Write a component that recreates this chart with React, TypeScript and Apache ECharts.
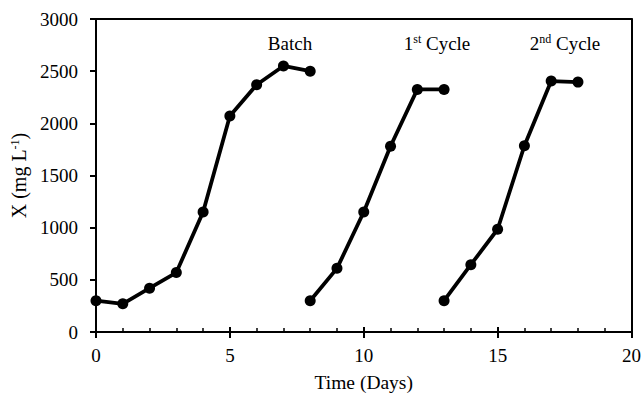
import React, { useEffect, useRef } from "react";
import * as echarts from "echarts";

const batchDays = [0, 1, 2, 3, 4, 5, 6, 7, 8];
const batchX = [300, 270, 420, 570, 1150, 2070, 2370, 2550, 2500];
const cycle1Days = [8, 9, 10, 11, 12, 13];
const cycle1X = [300, 610, 1150, 1780, 2325, 2325];
const cycle2Days = [13, 14, 15, 16, 17, 18];
const cycle2X = [300, 645, 985, 1785, 2405, 2395];

const FONT = "Liberation Serif";

function pairs(xs: number[], ys: number[]) {
  return xs.map((x, i) => [x, ys[i]]);
}

export default function App() {
  const ref = useRef<HTMLDivElement>(null);
  useEffect(() => {
    if (!ref.current) return;
    const chart = echarts.init(ref.current, undefined, { renderer: "svg" });
    const lineSeries = (name: string, data: number[][]) => ({
      name,
      type: "line",
      data,
      symbol: "circle",
      symbolSize: 11,
      lineStyle: { color: "#000", width: 3.8 },
      itemStyle: { color: "#000" },
      xAxisIndex: 0,
      yAxisIndex: 0,
    });
    const plain = (v: number) => String(v);
    const supRich = { sup: { fontFamily: FONT, fontSize: 12, color: "#000", fill: "#000", padding: [0, 0, 8, 0] } };
    chart.setOption({
      animation: false,
      backgroundColor: "#fff",
      textStyle: { fontFamily: FONT },
      grid: {
        left: 96,
        right: 12,
        top: 19,
        bottom: 60,
      },
      xAxis: [
        {
          type: "value",
          position: "bottom",
          min: 0,
          max: 20,
          interval: 5,
          name: "Time (Days)",
          nameLocation: "middle",
          nameGap: 40,
          nameTextStyle: { fontFamily: FONT, fontSize: 19.5, color: "#000" },
          axisLine: { show: true, onZero: false, lineStyle: { color: "#000", width: 2 } },
          axisTick: { show: true, inside: true, length: 5, lineStyle: { color: "#000", width: 2 } },
          minorTick: { show: true, splitNumber: 5, length: 4, lineStyle: { color: "#000", width: 1.5 } },
          axisLabel: { fontFamily: FONT, fontSize: 19, color: "#000", margin: 14, formatter: plain },
          splitLine: { show: false },
          minorSplitLine: { show: false },
        },
        {
          type: "value",
          position: "bottom",
          min: 0,
          max: 20,
          interval: 5,
          axisLine: { show: false, onZero: false },
          axisTick: { show: true, inside: false, length: 6, lineStyle: { color: "#000", width: 2 } },
          axisLabel: { show: false },
          splitLine: { show: false },
        },
        {
          type: "value",
          position: "top",
          min: 0,
          max: 20,
          axisLine: { show: true, onZero: false, lineStyle: { color: "#000", width: 2 } },
          axisTick: { show: false },
          axisLabel: { show: false },
          splitLine: { show: false },
        },
      ],
      yAxis: [
        {
          type: "value",
          position: "left",
          min: 0,
          max: 3000,
          interval: 500,
          name: "X (mg L{sup|-1})",
          nameLocation: "middle",
          nameGap: 58,
          nameTextStyle: {
            fontFamily: FONT,
            fontSize: 20,
            color: "#000",
            rich: supRich,
          },
          axisLine: { show: true, onZero: false, lineStyle: { color: "#000", width: 2 } },
          axisTick: { show: true, inside: false, length: 6, lineStyle: { color: "#000", width: 2 } },
          axisLabel: { fontFamily: FONT, fontSize: 19, color: "#000", margin: 18, formatter: plain },
          splitLine: { show: false },
        },
        {
          type: "value",
          position: "right",
          min: 0,
          max: 3000,
          axisLine: { show: true, onZero: false, lineStyle: { color: "#000", width: 2 } },
          axisTick: { show: false },
          axisLabel: { show: false },
          splitLine: { show: false },
        },
      ],
      graphic: [
        {
          type: "text",
          x: 290,
          y: 43,
          style: {
            text: "Batch",
            fontFamily: FONT,
            fontSize: 19,
            fill: "#000",
            align: "center",
            verticalAlign: "middle",
          },
        },
        {
          type: "text",
          x: 437,
          y: 43,
          style: {
            text: "1{sup|st} Cycle",
            fontFamily: FONT,
            fontSize: 19,
            fill: "#000",
            align: "center",
            verticalAlign: "middle",
            rich: supRich,
          },
        },
        {
          type: "text",
          x: 565,
          y: 43,
          style: {
            text: "2{sup|nd} Cycle",
            fontFamily: FONT,
            fontSize: 19,
            fill: "#000",
            align: "center",
            verticalAlign: "middle",
            rich: supRich,
          },
        },
      ],
      series: [
        lineSeries("Batch", pairs(batchDays, batchX)),
        lineSeries("1st Cycle", pairs(cycle1Days, cycle1X)),
        lineSeries("2nd Cycle", pairs(cycle2Days, cycle2X)),
      ],
    });
    return () => chart.dispose();
  }, []);
  return (
    <div
      ref={ref}
      style={{ position: "fixed", left: 0, top: 0, width: 644, height: 397, background: "#fff" }}
    />
  );
}
